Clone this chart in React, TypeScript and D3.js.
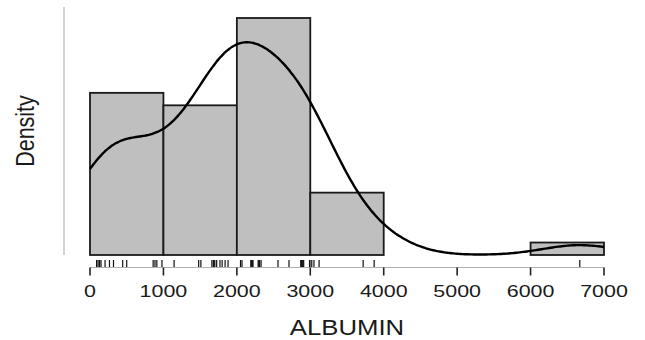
import React from "react";
import * as d3 from "d3";

// ALBUMIN observations (read from the rug)
const albumin: number[] = [
  90, 110, 130, 150, 205, 265, 320, 445, 500, 860, 885, 910, 980,
  1145, 1480, 1510, 1660, 1680, 1690, 1700, 1725, 1770, 1800, 1840, 1880,
  2050, 2070, 2190, 2200, 2210, 2220, 2290, 2300, 2310, 2330, 2560, 2710,
  2870, 2880, 2890, 2900, 2910, 2990, 2995,
  3020, 3050, 3120, 3720, 3870,
  6670,
];
const binEdges: number[] = [0, 1000, 2000, 3000, 4000, 5000, 6000, 7000];
const xTicks: number[] = [0, 1000, 2000, 3000, 4000, 5000, 6000, 7000];
const xTitle = "ALBUMIN";
const yTitle = "Density";

const W = 645;
const H = 340;

function nrd0(v: number[]): number {
  const s = [...v].sort((a, b) => a - b);
  const sd = d3.deviation(s) ?? 1;
  const iqr = (d3.quantile(s, 0.75) ?? 0) - (d3.quantile(s, 0.25) ?? 0);
  const lo = Math.min(sd, iqr / 1.34);
  return 0.9 * lo * Math.pow(s.length, -0.2);
}

export default function App() {
  const x = d3.scaleLinear().domain([0, 7000]).range([90, 604]);
  const y = d3.scaleLinear().domain([0, 0.00038]).range([255, 18]);
  const n = albumin.length;

  const bins = d3
    .bin()
    .domain([0, 7000])
    .thresholds(binEdges.slice(1, -1))(albumin);

  const bw = nrd0(albumin);
  const gridPts = d3.range(0, 7000.001, 25);
  const kde = gridPts.map((g) => {
    let s = 0;
    for (const v of albumin) {
      const z = (g - v) / bw;
      s += Math.exp(-0.5 * z * z);
    }
    return [g, s / (n * bw * Math.sqrt(2 * Math.PI))] as [number, number];
  });
  const line = d3
    .line<[number, number]>()
    .x((d) => x(d[0]))
    .y((d) => y(d[1]))
    .curve(d3.curveBasis);

  const font = "'Liberation Sans', Arial, Helvetica, sans-serif";

  return (
    <svg width={W} height={H} style={{ position: "absolute", left: 0, top: 0 }}>
      <rect width={W} height={H} fill="#fff" />
      {/* y axis line */}
      <line x1={64} x2={64} y1={7} y2={255} stroke="#c4c4c4" strokeWidth={1.5} />
      {/* histogram */}
      {bins
        .filter((b) => b.length > 0)
        .map((b, i) => (
          <rect
            key={i}
            x={x(b.x0 as number)}
            y={y(b.length / (n * ((b.x1 as number) - (b.x0 as number))))}
            width={x(b.x1 as number) - x(b.x0 as number)}
            height={255 - y(b.length / (n * ((b.x1 as number) - (b.x0 as number))))}
            fill="#bfbfbf"
            stroke="#1a1a1a"
            strokeWidth={1.8}
          />
        ))}
      {/* density curve */}
      <path d={line(kde) ?? ""} fill="none" stroke="#000" strokeWidth={2.4} />
      {/* rug */}
      {albumin.map((v, i) => (
        <line key={i} x1={x(v)} x2={x(v)} y1={260} y2={267} stroke="#111" strokeWidth={1.2} />
      ))}
      {/* x axis */}
      <line x1={x(0)} x2={x(7000)} y1={267.5} y2={267.5} stroke="#b0b0b0" strokeWidth={1} />
      {xTicks.map((t) => (
        <g key={t}>
          <line x1={x(t)} x2={x(t)} y1={267.5} y2={275.5} stroke="#222" strokeWidth={1.6} />
          <g transform={`translate(${x(t)},297) scale(1.3,1)`}>
            <text textAnchor="middle" fontFamily={font} fontSize={16.5} fill="#1a1a1a">
              {t}
            </text>
          </g>
        </g>
      ))}
      <g transform={`translate(${(x(0) + x(7000)) / 2},334.5) scale(1.17,1)`}>
        <text textAnchor="middle" fontFamily={font} fontSize={22} fill="#1a1a1a">
          {xTitle}
        </text>
      </g>
      <g transform="translate(34,131) scale(1.2,1) rotate(-90)">
        <text textAnchor="middle" fontFamily={font} fontSize={21.5} fill="#1a1a1a">
          {yTitle}
        </text>
      </g>
    </svg>
  );
}
